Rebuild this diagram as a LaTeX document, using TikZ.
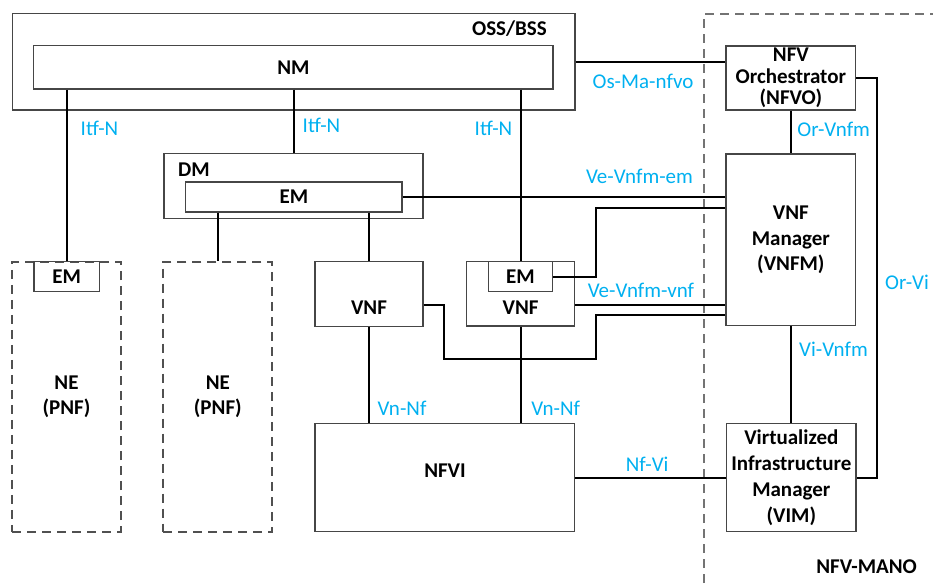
\documentclass[tikz,border=0pt]{standalone}
\usepackage{fontspec}
\setmainfont{Carlito}
\definecolor{lbl}{RGB}{0,176,240}
\definecolor{boxc}{RGB}{70,70,70}
\definecolor{dashc}{RGB}{80,80,80}
\begin{document}
\begin{tikzpicture}[x=1pt,y=-1pt,
  box/.style={draw=boxc, line width=1.4pt, rectangle, inner sep=0pt, font=\fontsize{21}{25.5}\selectfont\bfseries, align=center},
  dbox/.style={box, draw=dashc, line width=1.8pt, dash pattern=on 9pt off 6pt},
  conn/.style={draw=black, line width=2pt},
  lab/.style={text=lbl, font=\fontsize{21}{25}\selectfont, inner sep=0pt},
  ttl/.style={font=\fontsize{21}{25}\selectfont\bfseries, inner sep=0pt}]
\useasboundingbox (0,0) rectangle (933,583);

% MANO dashed region
\coordinate (m1) at (704,583);
\coordinate (m2) at (704,14);
\coordinate (m3) at (933,14);
\draw[draw=dashc!80!white, line width=1.8pt, dash pattern=on 9pt off 6pt] (m1) -- (m2) -- (m3);
\node[ttl] (mano) at (866.6,566.7) {NFV-MANO};

% OSS/BSS
\node[box, minimum width=562.4pt, minimum height=96.7pt] (oss) at (293.8,61.65) {};
\node[ttl, anchor=east] (osst) at (547,29) {OSS/BSS};
\node[box, minimum width=519.3pt, minimum height=43.3pt] (nm) at (293.35,67.35) {NM};

% DM
\node[box, minimum width=259pt, minimum height=64.6pt] (dm) at (293.5,186) {};
\node[ttl, anchor=west] (dmt) at (178,170) {DM};
\node[box, minimum width=216.4pt, minimum height=30pt] (emdm) at (293.8,197) {EM};

% NE boxes
\node[dbox, minimum width=108.4pt, minimum height=270pt] (ne1) at (66.5,396.7) {NE\\(PNF)};
\node[box, minimum width=65.3pt, minimum height=30pt] (emne) at (66.65,276.7) {EM};
\node[dbox, minimum width=109pt, minimum height=270pt] (ne2) at (217.8,396.7) {NE\\(PNF)};

% VNFs
\node[box, minimum width=108pt, minimum height=64.8pt] (vnf1) at (369,294.1) {};
\node[ttl] (vnf1t) at (369,307.3) {VNF};
\node[box, minimum width=107.6pt, minimum height=64.3pt] (vnf2) at (520.5,293.9) {};
\node[ttl] (vnf2t) at (520.6,307.3) {VNF};
\node[box, minimum width=64.4pt, minimum height=30pt] (emv) at (520.5,276.7) {EM};

% NFVI
\node[box, minimum width=259.5pt, minimum height=108.4pt] (nfvi) at (444.75,477.5) {};
\node[ttl] (nfvit) at (445,470.7) {NFVI};

% MANO boxes
\node[box, minimum width=129.7pt, minimum height=64pt, font=\fontsize{21}{21.5}\selectfont\bfseries] (nfvo) at (790.85,78) {NFV\\Orchestrator\\(NFVO)};
\node[box, minimum width=129.7pt, minimum height=171.7pt] (vnfm) at (790.85,239.85) {VNF\\Manager\\(VNFM)};
\node[box, minimum width=129.3pt, minimum height=108.4pt, font=\fontsize{21}{26}\selectfont\bfseries] (vim) at (791.3,477.5) {Virtualized\\Infrastructure\\Manager\\(VIM)};

% helper coordinates
\coordinate (osy) at (0,61.7);
\coordinate (j1) at (596,208.3);
\coordinate (y305) at (0,305);
\coordinate (k1) at (444.3,359);
\coordinate (k2) at (596,315);
\coordinate (orx) at (877,0);

% connectors
\draw[conn] (nm.south -| emne.north) -- (emne.north);
\draw[conn] (nm.south -| dm.north) -- (dm.north);
\draw[conn] (nm.south -| emv.north) -- (emv.north);
\draw[conn] (emdm.south -| ne2.north) -- (ne2.north);
\draw[conn] (emdm.south -| vnf1.north) -- (vnf1.north);
\draw[conn] (vnf1.south) -- (vnf1.south |- nfvi.north);
\draw[conn] (vnf2.south -| emv.north) -- (nfvi.north -| emv.north);
\draw[conn] (oss.east |- osy) -- (nfvo.west |- osy);
\draw[conn] (emdm.east) -- (emdm.east -| vnfm.west);
\draw[conn] (emv.east) -| (j1) -- (j1 -| vnfm.west);
\draw[conn] (vnf2.east |- y305) -- (vnfm.west |- y305);
\draw[conn] (vnf1.east |- y305) -| (k1) -| (k2) -- (k2 -| vnfm.west);
\draw[conn] (nfvo.south) -- (vnfm.north);
\draw[conn] (vnfm.south) -- (vnfm.south |- vim.north);
\draw[conn] (nfvi.east) -- (vim.west);
\draw[conn] (nfvo.east) -- (orx |- nfvo.east) -- (orx |- vim.east) -- (vim.east);

% labels
\node[lab] (l1) at (99.5,128) {Itf-N};
\node[lab] (l2) at (321.5,125) {Itf-N};
\node[lab] (l3) at (493.5,128) {Itf-N};
\node[lab] (l4) at (643,81) {Os-Ma-nfvo};
\node[lab] (l5) at (833.7,129) {Or-Vnfm};
\node[lab] (l6) at (639.5,176.7) {Ve-Vnfm-em};
\node[lab] (l7) at (641,290) {Ve-Vnfm-vnf};
\node[lab] (l8) at (833.5,349.3) {Vi-Vnfm};
\node[lab] (l9) at (907,282.5) {Or-Vi};
\node[lab] (l10) at (402,408.3) {Vn-Nf};
\node[lab] (l11) at (555.7,408.3) {Vn-Nf};
\node[lab] (l12) at (647.2,464.3) {Nf-Vi};
\end{tikzpicture}
\end{document}
